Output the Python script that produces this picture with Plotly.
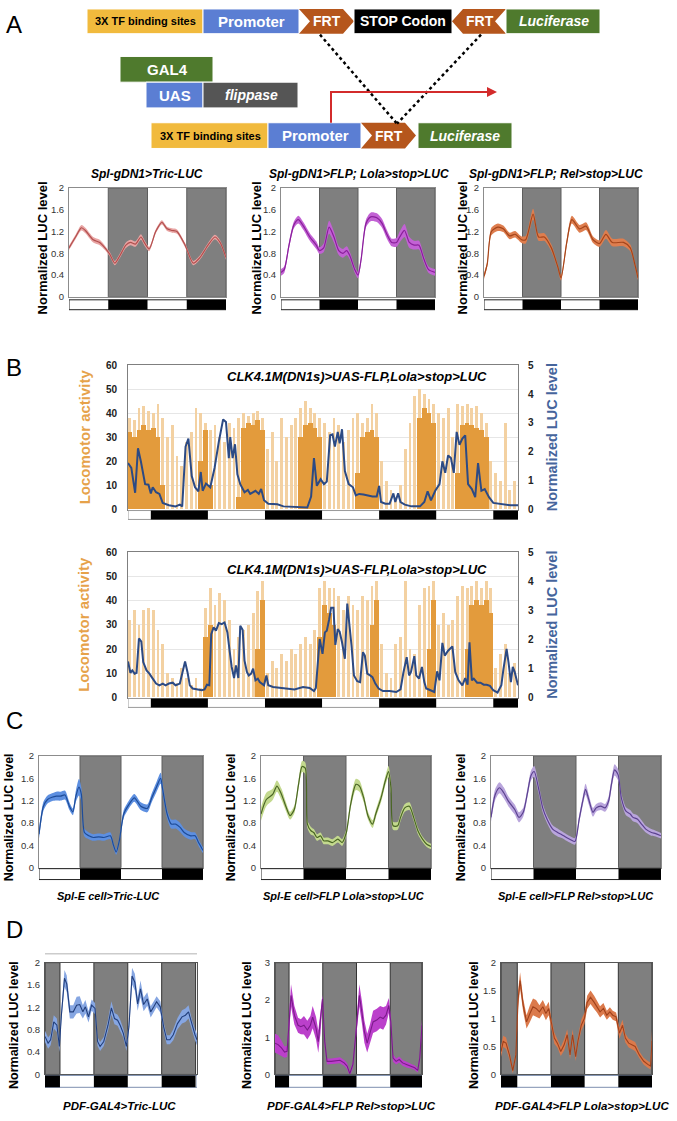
import plotly.graph_objects as go

W, H = 677, 1121

# ---------------- DATA ----------------
A_NIGHTS = [(12, 24), (36, 48)]
B_NIGHTS = [(12, 24), (36, 48), (60, 72), (84, 96)]
C_NIGHTS = [(12, 24), (36, 48)]
D_NIGHTS = [(-12, 0), (12, 24), (36, 48)]

A1_T = [0, 2, 3.8, 5, 7.4, 9.4, 11, 12.5, 14, 15.5, 17.4, 18.8, 20.3, 22, 23, 24.5, 26.5, 28.4, 30, 31.5, 33, 35.5, 38, 40, 42.5, 44.6, 46.2, 48]
A1_V = [0.9, 1.1, 1.27, 1.22, 1.05, 1.0, 0.9, 0.78, 0.62, 0.75, 0.95, 1.0, 0.97, 1.1, 1.0, 0.88, 1.2, 1.37, 1.25, 1.22, 1.2, 0.95, 0.62, 0.72, 0.95, 1.1, 1.0, 0.72]
A1_SEM = [0.04, 0.04, 0.05, 0.05, 0.05, 0.05, 0.04, 0.04, 0.04, 0.04, 0.05, 0.05, 0.05, 0.05, 0.05, 0.04, 0.04, 0.04, 0.04, 0.04, 0.04, 0.04, 0.04, 0.04, 0.04, 0.04, 0.04, 0.04]

A2_T = [0, 1, 2.5, 4, 5.4, 7, 9, 11, 12, 13.3, 15, 16.5, 18, 19.3, 20.5, 21.5, 23, 24, 25, 26.5, 28, 30, 31.5, 33, 34.5, 36, 37, 38.5, 40, 41.5, 43, 44.5, 46, 48]
A2_V = [0.45, 0.5, 0.95, 1.32, 1.42, 1.3, 1.1, 0.95, 0.85, 0.9, 1.28, 1.1, 0.85, 0.8, 0.85, 0.75, 0.5, 0.4, 0.7, 1.35, 1.47, 1.45, 1.35, 1.15, 1.0, 1.0, 1.1, 1.22, 1.0, 0.95, 0.95, 0.7, 0.5, 0.45]
A2_SEM = [0.06, 0.06, 0.06, 0.06, 0.07, 0.07, 0.07, 0.07, 0.06, 0.08, 0.12, 0.1, 0.08, 0.08, 0.08, 0.07, 0.06, 0.06, 0.06, 0.07, 0.08, 0.08, 0.08, 0.08, 0.07, 0.08, 0.1, 0.12, 0.1, 0.08, 0.08, 0.07, 0.06, 0.06]

A3_T = [0, 1, 2.3, 4.3, 6, 8, 9.7, 11.7, 13, 15.3, 17, 18.8, 21, 23, 24, 25.8, 27.4, 29.8, 31.8, 34, 36, 38, 40, 43.5, 45.6, 47, 48]
A3_V = [0.38, 0.6, 1.2, 1.28, 1.25, 1.12, 1.15, 1.05, 1.05, 1.52, 1.1, 1.1, 0.9, 0.55, 0.35, 1.0, 1.42, 1.25, 1.3, 1.05, 0.98, 1.15, 1.0, 1.0, 0.9, 0.6, 0.35]
A3_SEM = [0.05, 0.05, 0.07, 0.07, 0.06, 0.06, 0.06, 0.06, 0.07, 0.1, 0.07, 0.07, 0.06, 0.05, 0.05, 0.06, 0.07, 0.07, 0.07, 0.06, 0.06, 0.08, 0.07, 0.07, 0.06, 0.05, 0.05]

B_HOURS = [h + 0.5 for h in range(7, 89)]
B1_DENSE = [32, 30, 33, 35, 33, 34, 30, 10, 0, 0,
            0, 0, 0, 0, 0, 20, 33, 10, 0, 0,
            0, 0, 0, 5, 34, 36, 35, 37, 33, 0,
            0, 0, 0, 0, 0, 0, 30, 35, 36, 34,
            30, 0, 0, 0, 0, 0, 0, 0, 15, 30,
            32, 33, 30, 0, 0, 0, 0, 0, 0, 0,
            0, 38, 42, 40, 36, 0, 0, 0, 0, 15,
            35, 36, 35, 34, 33, 30, 0, 0, 0, 0,
            0, 0]
B1_PEAK = [38, 37, 42, 43, 41, 40, 44, 38, 30, 35,
           22, 18, 28, 32, 42, 40, 36, 33, 35, 30,
           28, 36, 34, 38, 40, 39, 40, 41, 38, 25,
           32, 20, 38, 30, 35, 38, 42, 45, 42, 40,
           38, 36, 32, 38, 35, 28, 33, 38, 40, 36,
           38, 44, 40, 20, 12, 8, 5, 10, 25, 36,
           47, 50, 48, 46, 44, 40, 38, 42, 30, 44,
           43, 44, 42, 43, 40, 36, 20, 15, 12, 36,
           8, 12]
B1_LUC_T = [7.2, 7.9, 8.7, 9.3, 9.9, 10.8, 11.5, 12.0, 12.4, 13.1,
            13.8, 14.5, 15.8, 17.2, 18.1, 18.6, 19.3, 19.9, 20.6, 21.3,
            22.0, 22.5, 22.9, 23.6, 24.5, 25.4, 26.3, 27.2, 27.8, 28.4,
            28.7, 29.2, 29.7, 30.2, 30.8, 31.7, 32.4, 32.9, 34.0, 34.7,
            35.2, 35.8, 36.7, 38.6, 39.9, 42.2, 44.9, 45.7, 46.3, 46.9,
            47.7, 48.4, 49.0, 49.7, 50.2, 50.7, 51.3, 51.7, 52.2, 52.8,
            53.6, 54.5, 55.1, 55.8, 56.7, 58.6, 59.5, 60.0, 60.4, 61.3,
            62.2, 63.0, 63.4, 64.0, 64.5, 65.4, 66.8, 68.6, 69.5, 70.2,
            70.9, 71.8, 72.7, 73.3, 73.9, 74.5, 75.1, 75.7, 76.3, 76.9,
            77.5, 78.1, 78.7, 79.5, 80.2, 80.8, 81.5, 82.2, 83.1, 84.0,
            85.8, 87.6, 89.2]
B1_LUC_V = [1.61, 1.44, 0.58, 2.12, 1.67, 0.88, 0.86, 0.56, 0.77, 0.6,
            0.54, 0.23, 0.15, 0.11, 0.17, 0.11, 2.18, 2.46, 1.16, 0.77,
            0.63, 1.30, 0.65, 0.90, 0.77, 1.44, 2.35, 3.12, 3.03, 1.78,
            2.51, 1.78, 2.26, 1.22, 0.88, 0.6, 0.68, 0.54, 0.65, 0.54,
            0.71, 0.32, 0.2, 0.18, 0.11, 0.09, 0.07, 0.45, 1.78, 0.82,
            1.05, 0.88, 0.97, 2.57, 2.6, 2.18, 2.69, 2.29, 2.78, 1.33,
            0.88, 0.77, 0.49, 0.54, 0.52, 0.45, 0.45, 0.82, 0.26, 0.2,
            0.2, 0.56, 0.26, 0.56, 0.26, 0.17, 0.11, 0.11, 0.26, 0.63,
            0.32, 0.65, 0.88, 1.67, 1.27, 1.87, 1.78, 1.27, 2.69, 2.24,
            2.46, 2.57, 0.88, 0.71, 0.43, 1.61, 0.65, 0.71, 0.43, 0.23,
            0.18, 0.15, 0.15]

B2_DENSE = [0, 0, 0, 0, 0, 0, 0, 0, 0, 0,
            0, 0, 0, 0, 0, 0, 25, 30, 0, 0,
            0, 0, 0, 0, 0, 0, 0, 20, 40, 0,
            0, 0, 0, 0, 0, 0, 0, 0, 0, 0,
            25, 38, 35, 30, 0, 0, 0, 0, 0, 0,
            0, 30, 40, 0, 0, 0, 0, 0, 0, 0,
            0, 0, 0, 20, 40, 0, 0, 0, 0, 0,
            0, 20, 38, 40, 38, 40, 35, 0, 0, 0,
            0, 0]
B2_PEAK = [32, 36, 30, 36, 37, 36, 28, 22, 10, 8,
           6, 12, 8, 5, 8, 4, 37, 45, 38, 43,
           40, 32, 20, 25, 28, 30, 35, 44, 48, 10,
           15, 12, 18, 15, 20, 18, 22, 25, 22, 28,
           45, 48, 45, 45, 42, 36, 42, 38, 36, 42,
           40, 46, 48, 22, 10, 8, 22, 25, 48, 20,
           18, 38, 45, 46, 48, 30, 35, 30, 32, 42,
           46, 45, 46, 48, 45, 48, 45, 12, 18, 22,
           10, 14]
B2_LUC_T = [7.2, 7.7, 8.1, 8.6, 9.0, 9.5, 10.0, 10.4, 11.1, 11.7,
            12.4, 13.1, 13.8, 14.5, 15.1, 15.8, 16.6, 17.2, 18.1, 18.6,
            19.2, 19.7, 20.2, 20.8, 21.7, 22.7, 23.3, 23.8, 24.3, 24.7,
            25.2, 25.7, 26.3, 26.9, 27.5, 28.1, 28.6, 29.0, 29.5, 29.9,
            30.4, 30.8, 31.3, 31.7, 32.2, 32.6, 33.1, 33.5, 34.0, 34.5,
            34.9, 35.4, 35.8, 36.3, 36.7, 37.7, 39.0, 40.4, 42.2, 44.0,
            45.4, 46.3, 46.7, 47.5, 48.1, 48.6, 49.0, 49.5, 49.9, 50.4,
            50.8, 51.3, 51.7, 52.2, 52.8, 53.3, 53.7, 54.2, 54.7, 55.4,
            56.0, 56.6, 57.0, 57.5, 58.1, 58.6, 59.2, 59.9, 60.8, 62.2,
            63.6, 64.5, 65.1, 65.8, 66.3, 66.7, 67.4, 67.8, 68.4, 69.0,
            69.5, 69.9, 70.8, 71.6, 72.2, 72.7, 73.3, 73.8, 74.5, 75.4,
            76.0, 76.7, 77.5, 78.1, 78.6, 79.0, 79.5, 79.9, 80.6, 81.3,
            82.0, 82.6, 83.3, 84.0, 84.9, 85.7, 86.1, 86.8, 87.2, 87.7,
            88.1, 88.5, 89.2]
B2_LUC_V = [1.24, 0.85, 0.93, 0.82, 0.85, 2.03, 1.92, 1.22, 0.93, 0.82,
            0.65, 0.48, 0.42, 0.48, 0.42, 0.48, 0.51, 0.42, 0.48, 0.88,
            1.24, 0.88, 0.42, 0.31, 0.28, 0.25, 0.28, 0.44, 0.42, 2.18,
            2.41, 2.3, 2.56, 2.52, 2.58, 2.24, 1.56, 1.05, 0.67, 1.1,
            0.67, 2.47, 2.33, 1.27, 0.88, 0.76, 0.82, 0.99, 0.59, 0.65,
            0.53, 0.48, 0.42, 0.76, 0.42, 0.36, 0.33, 0.31, 0.28, 0.36,
            0.33, 0.22, 0.33, 2.01, 1.5, 2.24, 2.3, 2.69, 3.09, 3.09,
            1.81, 2.35, 2.26, 1.9, 1.33, 3.23, 2.64, 1.78, 0.76, 0.56,
            0.53, 1.56, 1.44, 0.82, 0.76, 0.7, 0.48, 0.31, 0.22, 0.22,
            0.19, 0.28, 0.85, 1.39, 0.76, 0.88, 1.42, 0.76, 0.65, 1.05,
            0.53, 0.31, 0.25, 0.19, 0.9, 0.59, 1.88, 1.44, 1.61, 1.76,
            0.88, 0.59, 0.42, 0.67, 0.44, 1.9, 0.59, 0.65, 0.51, 0.51,
            0.44, 0.44, 0.4, 0.25, 0.17, 0.42, 0.93, 1.67, 1.22, 0.53,
            1.05, 0.88, 0.42]

C1_T = [0, 1.3, 2.5, 3.8, 5.1, 6.3, 7.6, 8.9, 9.9, 10.8, 11.7, 12.4, 13.3, 14.6, 15.9, 17.5, 19.0, 20.9, 21.8, 22.6,
        23.5, 24.8, 26.0, 27.9, 29.8, 31.7, 33.0, 34.3, 35.6, 36.2, 37.5, 38.7, 40.0, 41.3, 42.5, 44.4, 45.7, 46.7, 48]
C1_V = [0.6, 1.1, 1.22, 1.26, 1.28, 1.28, 1.3, 1.1, 1.0, 1.28, 1.44, 1.31, 0.63, 0.57, 0.54, 0.55, 0.54, 0.57, 0.4, 0.28,
        0.48, 0.96, 1.1, 1.25, 1.1, 1.06, 1.25, 1.43, 1.6, 1.4, 0.96, 0.78, 0.78, 0.72, 0.63, 0.57, 0.57, 0.45, 0.31]
C1_SEM = [0.08, 0.08, 0.07, 0.07, 0.08, 0.08, 0.08, 0.07, 0.06, 0.1, 0.15, 0.12, 0.07, 0.06, 0.06, 0.06, 0.06, 0.06, 0.05, 0.05,
          0.05, 0.07, 0.07, 0.07, 0.07, 0.07, 0.08, 0.09, 0.1, 0.1, 0.08, 0.08, 0.08, 0.08, 0.07, 0.07, 0.06, 0.06, 0.05]

C2_T = [0, 1.5, 3.3, 4.5, 5.8, 7.0, 8.2, 9.4, 10.6, 11.6, 12.5, 13.1, 14.1, 14.9, 15.8, 16.8, 17.7, 18.9, 20.2, 21.7,
        22.9, 24.1, 25.3, 26.8, 27.8, 29.0, 30.2, 31.5, 32.4, 33.9, 35.1, 36.0, 36.7, 37.3, 38.6, 39.4, 40.6, 41.9, 43.1, 44.3,
        45.6, 46.8, 48]
C2_V = [0.96, 1.22, 1.31, 1.46, 1.31, 1.1, 0.93, 1.04, 1.49, 1.81, 1.78, 0.78, 0.66, 0.63, 0.54, 0.57, 0.48, 0.48, 0.45, 0.51,
        0.45, 0.63, 1.13, 1.49, 1.46, 1.25, 0.93, 0.78, 0.96, 1.25, 1.55, 1.72, 1.43, 0.75, 0.75, 0.9, 1.07, 1.1, 0.9, 0.66,
        0.51, 0.42, 0.38]
C2_SEM = [0.12, 0.12, 0.1, 0.1, 0.1, 0.08, 0.07, 0.07, 0.08, 0.1, 0.1, 0.07, 0.07, 0.06, 0.06, 0.06, 0.06, 0.06, 0.06, 0.06,
          0.06, 0.06, 0.08, 0.1, 0.1, 0.08, 0.07, 0.07, 0.07, 0.08, 0.08, 0.1, 0.1, 0.07, 0.07, 0.07, 0.07, 0.07, 0.06, 0.06,
          0.05, 0.05, 0.05]

C3_T = [0, 1.2, 2.4, 3.6, 4.9, 6.7, 7.9, 9.1, 10.3, 11.3, 12.2, 13.4, 14.6, 15.8, 17.4, 18.8, 20.0, 21.3, 22.5, 23.7,
        24.9, 25.9, 26.7, 27.6, 28.8, 29.7, 31.0, 32.2, 33.2, 34.0, 34.9, 35.9, 36.8, 38.1, 39.3, 40.1, 41.3, 42.5, 43.7, 45.3,
        46.5, 48]
C3_V = [0.9, 1.31, 1.43, 1.34, 1.19, 1.04, 0.9, 0.99, 1.34, 1.65, 1.72, 1.43, 1.07, 0.87, 0.69, 0.63, 0.59, 0.54, 0.5, 0.47,
        0.87, 1.19, 1.4, 1.22, 0.99, 1.07, 1.1, 1.07, 1.19, 1.49, 1.75, 1.66, 1.25, 1.01, 0.96, 0.9, 0.87, 0.78, 0.69, 0.63,
        0.61, 0.57]
C3_SEM = [0.08, 0.1, 0.1, 0.1, 0.09, 0.09, 0.09, 0.08, 0.08, 0.09, 0.1, 0.09, 0.08, 0.07, 0.07, 0.07, 0.06, 0.06, 0.06, 0.06,
          0.07, 0.08, 0.1, 0.09, 0.08, 0.07, 0.07, 0.07, 0.08, 0.09, 0.1, 0.1, 0.08, 0.07, 0.07, 0.07, 0.07, 0.07, 0.06, 0.06,
          0.05, 0.05]

D1_T = [-5.3, -4.2, -3.3, -2.2, -1.1, -0.2, 0.5, 1.6, 2.4, 3.5, 4.7, 5.9, 7.0, 8.1, 9.0, 10.1, 11.2, 12.4, 13.3, 14.2,
        15.5, 17.0, 18.2, 19.3, 20.4, 21.3, 22.4, 23.5, 24.4, 25.5, 26.5, 27.5, 28.5, 29.6, 30.9, 32.1, 33.2, 34.2, 35.5, 36.7,
        37.8, 38.9, 40.1, 41.6, 43.2, 44.4, 45.5, 46.7, 47.8, 48.5]
D1_V = [0.68, 0.56, 0.62, 0.94, 0.88, 0.5, 1.06, 1.72, 1.62, 1.12, 1.12, 1.24, 1.25, 1.12, 1.21, 1.03, 1.24, 1.18, 0.59, 0.5,
        0.59, 0.88, 1.19, 1.0, 0.97, 0.88, 0.74, 0.5, 0.85, 1.76, 1.65, 1.26, 1.53, 1.25, 1.35, 1.12, 1.21, 1.3, 1.21, 0.85,
        0.62, 0.62, 0.71, 0.91, 1.03, 1.06, 1.12, 0.88, 0.71, 0.62]
D1_SEM = [0.1, 0.1, 0.1, 0.12, 0.12, 0.1, 0.1, 0.15, 0.15, 0.12, 0.12, 0.15, 0.15, 0.12, 0.12, 0.1, 0.1, 0.1, 0.08, 0.08,
          0.08, 0.1, 0.12, 0.1, 0.1, 0.1, 0.08, 0.08, 0.1, 0.15, 0.15, 0.12, 0.15, 0.12, 0.12, 0.1, 0.1, 0.1, 0.1, 0.08,
          0.08, 0.08, 0.1, 0.1, 0.12, 0.12, 0.12, 0.1, 0.1, 0.1]

D2_T = [-5.0, -3.9, -2.7, -1.6, -0.7, 0.1, 0.7, 1.9, 3.2, 4.2, 5.3, 6.5, 7.6, 8.4, 9.6, 10.4, 11.2, 11.9, 12.7, 13.5,
        15.0, 16.5, 18.1, 19.6, 20.7, 21.6, 22.7, 23.5, 24.4, 25.0, 25.9, 26.8, 27.8, 28.8, 29.9, 31.2, 32.4, 33.5, 34.5, 35.5,
        36.2, 37.0, 38.1, 39.2, 40.4, 42.0, 43.5, 44.7, 45.8, 46.5, 47.3]
D2_V = [0.84, 0.8, 0.71, 0.6, 0.62, 1.37, 2.12, 1.59, 1.32, 1.28, 1.32, 1.19, 1.32, 1.54, 1.24, 0.88, 1.41, 2.03, 0.88, 0.35,
        0.35, 0.37, 0.38, 0.31, 0.22, 0.02, 0.26, 0.88, 1.59, 2.12, 1.68, 1.15, 0.84, 1.1, 1.41, 1.46, 1.54, 1.5, 1.59, 1.85,
        1.41, 0.44, 0.35, 0.4, 0.31, 0.26, 0.22, 0.18, 0.11, 0.44, 1.32]
D2_SEM = [0.25, 0.25, 0.2, 0.15, 0.15, 0.2, 0.3, 0.25, 0.2, 0.2, 0.25, 0.25, 0.25, 0.3, 0.3, 0.3, 0.3, 0.1, 0.1, 0.08,
          0.08, 0.08, 0.08, 0.08, 0.08, 0.06, 0.08, 0.1, 0.2, 0.3, 0.3, 0.3, 0.25, 0.25, 0.3, 0.3, 0.3, 0.3, 0.25, 0.2,
          0.15, 0.1, 0.08, 0.08, 0.08, 0.08, 0.06, 0.06, 0.06, 0.1, 0.15]

D3_T = [-5.8, -5.0, -4.0, -2.8, -1.6, -0.5, 0.3, 1.0, 2.1, 3.3, 4.5, 5.6, 6.7, 7.9, 9.1, 10.2, 11.2, 12.1, 13.2, 14.3,
        15.5, 16.7, 17.8, 18.8, 19.7, 20.8, 21.6, 22.8, 23.9, 24.9, 26.1, 27.4, 28.4, 29.5, 30.7, 31.9, 33.0, 34.0, 35.2, 36.4,
        37.5, 38.5, 39.7, 40.9, 42.0, 43.5, 45.0, 46.5, 47.5, 48.0]
D3_V = [0.41, 0.59, 0.56, 0.35, 0.07, 0.35, 1.35, 1.68, 1.24, 0.94, 1.09, 1.21, 1.18, 1.12, 1.21, 1.09, 1.18, 0.91, 0.65, 0.56,
        0.41, 0.53, 0.71, 0.35, 0.71, 0.32, 0.59, 0.88, 1.0, 1.29, 1.38, 1.29, 1.21, 1.12, 1.18, 1.06, 1.12, 1.06, 1.03, 0.74,
        0.88, 0.65, 0.56, 0.53, 0.5, 0.35, 0.24, 0.18, 0.15, 0.6]
D3_SEM = [0.1, 0.1, 0.1, 0.08, 0.05, 0.08, 0.15, 0.15, 0.12, 0.12, 0.15, 0.15, 0.15, 0.12, 0.12, 0.12, 0.12, 0.1, 0.1, 0.08,
          0.08, 0.1, 0.1, 0.08, 0.1, 0.08, 0.08, 0.1, 0.1, 0.12, 0.12, 0.12, 0.1, 0.1, 0.1, 0.08, 0.08, 0.08, 0.08, 0.1,
          0.1, 0.08, 0.08, 0.08, 0.08, 0.06, 0.06, 0.06, 0.06, 0.2]

TICKS_2 = [0, 0.4, 0.8, 1.2, 1.6, 2]
TICKS_2_TXT = ['0', '0.4', '0.8', '1.2', '1.6', '2']

# ---------------- HELPERS ----------------
FONT = 'Liberation Sans, Arial, sans-serif'

fig = go.Figure()
shapes = []
annotations = []
layout = dict(width=W, height=H, margin=dict(l=0, r=0, t=0, b=0),
              paper_bgcolor='white', plot_bgcolor='white', showlegend=False,
              barmode='overlay', bargap=0)


def fx(p):
    return p / W


def fy(p):
    return 1 - p / H


def akey(kind, n):
    return f'{kind}axis' if n == 1 else f'{kind}axis{n}'


def aref(kind, n):
    return kind if n == 1 else f'{kind}{n}'


def make_axes(n, box, xrange, yrange, yticks, ytext, tickfont, frame='#8c8c8c', grid=False, standoff=2):
    left, right, top, bottom = box
    layout[akey('x', n)] = dict(domain=[fx(left), fx(right)], range=xrange, anchor=aref('y', n),
                                showticklabels=False, ticks='', showgrid=False, zeroline=False,
                                showline=True, mirror=True, linecolor=frame, linewidth=1)
    layout[akey('y', n)] = dict(domain=[fy(bottom), fy(top)], range=yrange, anchor=aref('x', n),
                                tickvals=yticks, ticktext=ytext, tickfont=tickfont, ticks='',
                                ticklabelstandoff=standoff,
                                showgrid=grid, gridcolor='#e6e6e6', zeroline=False,
                                showline=True, mirror=True, linecolor=frame, linewidth=1)


def shade(n, nights, xrange, edge='#5e5e5e'):
    for a, b in nights:
        a2, b2 = max(a, xrange[0]), min(b, xrange[1])
        if b2 <= a2:
            continue
        shapes.append(dict(type='rect', xref=aref('x', n), yref=aref('y', n) + ' domain',
                           x0=a2, x1=b2, y0=0, y1=1, fillcolor='#7f7f7f',
                           line=dict(width=1, color=edge), layer='below'))


def ld_bar(n, nights, xrange, top, bottom, border='#222222'):
    shapes.append(dict(type='rect', xref=aref('x', n), yref='paper', x0=xrange[0], x1=xrange[1],
                       y0=fy(bottom), y1=fy(top), fillcolor='white', line=dict(color=border, width=1)))
    for a, b in nights:
        a2, b2 = max(a, xrange[0]), min(b, xrange[1])
        if b2 <= a2:
            continue
        shapes.append(dict(type='rect', xref=aref('x', n), yref='paper', x0=a2, x1=b2,
                           y0=fy(bottom), y1=fy(top), fillcolor='black', line=dict(width=0)))


def band_line(n, t, v, s, line_color, band_color, shape='spline', lw=1.2):
    up = [a + b for a, b in zip(v, s)]
    lo = [a - b for a, b in zip(v, s)]
    ls = dict(width=0, shape=shape)
    if shape == 'spline':
        ls['smoothing'] = 0.7
    fig.add_trace(go.Scatter(x=t, y=up, xaxis=aref('x', n), yaxis=aref('y', n), mode='lines',
                             line=ls, hoverinfo='skip'))
    fig.add_trace(go.Scatter(x=t, y=lo, xaxis=aref('x', n), yaxis=aref('y', n), mode='lines',
                             line=ls, fill='tonexty', fillcolor=band_color, hoverinfo='skip'))
    ml = dict(width=lw, color=line_color, shape=shape)
    if shape == 'spline':
        ml['smoothing'] = 0.7
    fig.add_trace(go.Scatter(x=t, y=v, xaxis=aref('x', n), yaxis=aref('y', n), mode='lines', line=ml))


def text(x, y, s, size, color='black', bold=False, italic=False, family=FONT, angle=0, xanchor='center'):
    f = dict(family=family, size=size, color=color)
    if bold:
        f['weight'] = 'bold'
    if italic:
        f['style'] = 'italic'
    annotations.append(dict(x=fx(x), y=fy(y), xref='paper', yref='paper', text=s, showarrow=False,
                            font=f, textangle=angle, xanchor=xanchor, yanchor='middle'))


def box(x0, y0, x1, y1, color):
    shapes.append(dict(type='rect', xref='paper', yref='paper', x0=fx(x0), x1=fx(x1),
                       y0=fy(y1), y1=fy(y0), fillcolor=color, line=dict(width=1, color='white')))


def poly(pts, color):
    path = 'M ' + ' L '.join(f'{fx(a):.5f},{fy(b):.5f}' for a, b in pts) + ' Z'
    shapes.append(dict(type='path', xref='paper', yref='paper', path=path, fillcolor=color,
                       line=dict(width=0)))


def chevron(x0, x1, y0, y1, tip, color, direction=1):
    ym = (y0 + y1) / 2
    if direction == 1:
        pts = [(x0, y0), (x1 - tip, y0), (x1, ym), (x1 - tip, y1), (x0, y1), (x0 + tip, ym)]
    else:
        pts = [(x0, ym), (x0 + tip, y0), (x1, y0), (x1 - tip, ym), (x1, y1), (x0 + tip, y1)]
    poly(pts, color)


# ---------------- PANEL A DIAGRAM ----------------
YEL, BLU, FRT, GRN, GRY = '#F1BA3D', '#5B7ED3', '#B5561C', '#4F7A2D', '#555555'
box(87, 3, 203, 28, YEL)
box(203, 3, 299, 28, BLU)
chevron(299, 354, 3, 28, 11, FRT, 1)
box(354, 3, 452, 28, 'black')
chevron(452, 506, 3, 28, 11, FRT, -1)
box(506, 3, 600, 28, GRN)
box(120, 51, 213, 77, GRN)
box(146, 77, 203, 103, BLU)
box(203, 77, 298, 103, GRY)
box(151, 118, 268, 144, YEL)
box(268, 118, 361, 144, BLU)
chevron(361, 416, 118, 144, 11, FRT, 1)
box(418, 118, 512, 144, GRN)

shapes.append(dict(type='line', xref='paper', yref='paper', x0=fx(320), y0=fy(29), x1=fx(397), y1=fy(119),
                   line=dict(color='black', width=2.5, dash='dot')))
shapes.append(dict(type='line', xref='paper', yref='paper', x0=fx(481), y0=fy(29), x1=fx(397), y1=fy(119),
                   line=dict(color='black', width=2.5, dash='dot')))
shapes.append(dict(type='path', xref='paper', yref='paper',
                   path=f'M {fx(331):.5f},{fy(118):.5f} L {fx(331):.5f},{fy(87):.5f} L {fx(488):.5f},{fy(87):.5f}',
                   line=dict(color='#D32B2B', width=2)))
poly([(487, 82), (497, 87), (487, 92)], '#D32B2B')

text(145, 15.5, '3X TF binding sites', 11, bold=True)
text(251, 15.5, 'Promoter', 15, 'white', bold=True)
text(327, 15.5, 'FRT', 14, 'white', bold=True)
text(403, 15.5, 'STOP Codon', 14, 'white', bold=True)
text(480, 15.5, 'FRT', 14, 'white', bold=True)
text(554, 15.5, 'Luciferase', 14, 'white', bold=True, italic=True)
text(167, 64, 'GAL4', 15, 'white', bold=True)
text(175, 90, 'UAS', 15, 'white', bold=True)
text(251, 90, 'flippase', 14, 'white', bold=True, italic=True)
text(210, 131, '3X TF binding sites', 11, bold=True)
text(315, 131, 'Promoter', 15, 'white', bold=True)
text(389, 131, 'FRT', 14, 'white', bold=True)
text(465, 131, 'Luciferase', 14, 'white', bold=True, italic=True)

# panel letters
for letter, y in [('A', 19), ('B', 365), ('C', 722), ('D', 933)]:
    text(4, y, letter, 24, family=FONT, xanchor='left')

tick_small = dict(family=FONT, size=9.5, color='#333333')
tick_bold = dict(family=FONT, size=10, color='#222222', weight='bold')

# ---------------- PANEL A CHARTS ----------------
A_RANGE = [0, 48]
a_specs = [
    (1, (69, 226, 184, 294), A1_T, A1_V, A1_SEM, '#B24F4E', '#E8A5A4', 'Spl-gDN1>Tric-LUC', 147, 42),
    (2, (281, 435, 184, 294), A2_T, A2_V, A2_SEM, '#8A1F9B', '#C262D4', 'Spl-gDN1>FLP; Lola>stop>LUC', 359, 256),
    (3, (484, 638, 184, 294), A3_T, A3_V, A3_SEM, '#A5451B', '#DE7E4F', 'Spl-gDN1>FLP; Rel>stop>LUC', 556, 462),
]
for n, bx, t, v, s, lc, bc, title, tx, ytx in a_specs:
    make_axes(n, bx, A_RANGE, [0, 2], TICKS_2, TICKS_2_TXT, tick_small)
    shade(n, A_NIGHTS, A_RANGE)
    band_line(n, t, v, s, lc, bc)
    ld_bar(n, A_NIGHTS, A_RANGE, 297, 307)
    text(tx, 170, title, 12, bold=True, italic=True)
    text(ytx, 245, 'Normalized LUC level', 13, bold=True, angle=-90)

# ---------------- PANEL B CHARTS ----------------
B_RANGE = [7.2, 89.2]
b_specs = [
    (4, 12, (128, 518, 363, 509), B1_DENSE, B1_PEAK, B1_LUC_T, B1_LUC_V, 510, 519, 375),
    (5, 13, (128, 518, 552, 699), B2_DENSE, B2_PEAK, B2_LUC_T, B2_LUC_V, 700, 709, 570),
]
for n, rn, bx, dense, peak, lt, lv, bt, bb, ty in b_specs:
    make_axes(n, bx, B_RANGE, [0, 60], [0, 10, 20, 30, 40, 50, 60],
              ['0', '10', '20', '30', '40', '50', '60'], tick_bold, frame='#7f7f7f', grid=True, standoff=8)
    layout[akey('y', rn)] = dict(overlaying=aref('y', n), side='right', anchor=aref('x', n), range=[0, 5],
                                 tickvals=[0, 1, 2, 3, 4, 5], tickfont=tick_bold, ticks='',
                                 ticklabelstandoff=9, showgrid=False, zeroline=False, showline=False)
    fig.add_trace(go.Bar(x=B_HOURS, y=peak, width=0.6, marker=dict(color='#F3D1A2', line=dict(width=0)),
                         xaxis=aref('x', n), yaxis=aref('y', n)))
    fig.add_trace(go.Bar(x=B_HOURS, y=dense, width=1.0, marker=dict(color='#E39B3C', line=dict(width=0)),
                         xaxis=aref('x', n), yaxis=aref('y', n)))
    fig.add_trace(go.Scatter(x=lt, y=lv, mode='lines', line=dict(color='#2C4A84', width=2),
                             xaxis=aref('x', n), yaxis=aref('y', rn)))
    ld_bar(n, B_NIGHTS, B_RANGE, bt, bb, border='#9a9a9a')
    text(357, ty, 'CLK4.1M(DN1s)>UAS-FLP,Lola>stop>LUC', 13, bold=True, italic=True)
    cy = (bx[2] + bx[3]) / 2
    text(84, cy, 'Locomotor activity', 15, '#E6A24A', bold=True, angle=-90)
    text(552, cy, 'Normalized LUC level', 14.5, '#46659C', bold=True, angle=-90)

# ---------------- PANEL C CHARTS ----------------
C_RANGE = [0, 48]
c_specs = [
    (6, (39, 203, 758, 871), C1_T, C1_V, C1_SEM, '#1E4C98', '#5D8FE0', 'Spl-E cell>Tric-LUC', 108, 9),
    (7, (261, 431, 758, 871), C2_T, C2_V, C2_SEM, '#4A6624', '#C3D98E', 'Spl-E cell>FLP Lola>stop>LUC', 344, 231),
    (8, (491, 661, 758, 871), C3_T, C3_V, C3_SEM, '#5B4190', '#B9A5DC', 'Spl-E cell>FLP Rel>stop>LUC', 576, 461),
]
for n, bx, t, v, s, lc, bc, title, tx, ytx in c_specs:
    make_axes(n, bx, C_RANGE, [0, 2], TICKS_2, TICKS_2_TXT, tick_small)
    shade(n, C_NIGHTS, C_RANGE)
    band_line(n, t, v, s, lc, bc)
    ld_bar(n, C_NIGHTS, C_RANGE, 872, 883)
    text(tx, 900, title, 11, bold=True, italic=True)
    text(ytx, 820, 'Normalized LUC level', 12.5, bold=True, angle=-90)

# ---------------- PANEL D CHARTS ----------------
shapes.append(dict(type='line', xref='paper', yref='paper', x0=fx(45), x1=fx(197), y0=fy(958), y1=fy(958),
                   line=dict(color='#cccccc', width=1.5)))
d_specs = [
    (9, (45, 197, 967, 1080), [-5.3, 48.5], [0, 2], TICKS_2, TICKS_2_TXT,
     D1_T, D1_V, D1_SEM, '#223F7C', '#86A6E2', 'PDF-GAL4>Tric-LUC', 119, 14),
    (10, (275, 422, 967, 1080), [-5.0, 47.3], [0, 3], [0, 1, 2, 3], ['0', '1', '2', '3'],
     D2_T, D2_V, D2_SEM, '#7B1A8B', '#BB40CB', 'PDF-GAL4>FLP Rel>stop>LUC', 351, 247),
    (11, (501, 652, 967, 1080), [-5.8, 48.0], [0, 2], [0, 0.5, 1, 1.5, 2], ['0', '0.5', '1', '1.5', '2'],
     D3_T, D3_V, D3_SEM, '#A0411B', '#DB7A4C', 'PDF-GAL4>FLP Lola>stop>LUC', 582, 474),
]
for n, bx, xr, yr, tv, tt, t, v, s, lc, bc, title, tx, ytx in d_specs:
    make_axes(n, bx, xr, yr, tv, tt, tick_small, frame='#555555')
    shade(n, D_NIGHTS, xr, edge='#333333')
    band_line(n, t, v, s, lc, bc, shape='linear', lw=1.1)
    ld_bar(n, D_NIGHTS, xr, 1081, 1093, border='#7d8fb0')
    text(tx, 1112, title, 11.5, bold=True, italic=True)
    text(ytx, 1030, 'Normalized LUC level', 12.5, bold=True, angle=-90)

layout['shapes'] = shapes
layout['annotations'] = annotations
fig.update_layout(**layout)
fig.write_html('out.html', config={'displayModeBar': False},
               post_script="document.body.style.margin='0';document.body.style.padding='0';document.body.style.overflow='hidden';")
